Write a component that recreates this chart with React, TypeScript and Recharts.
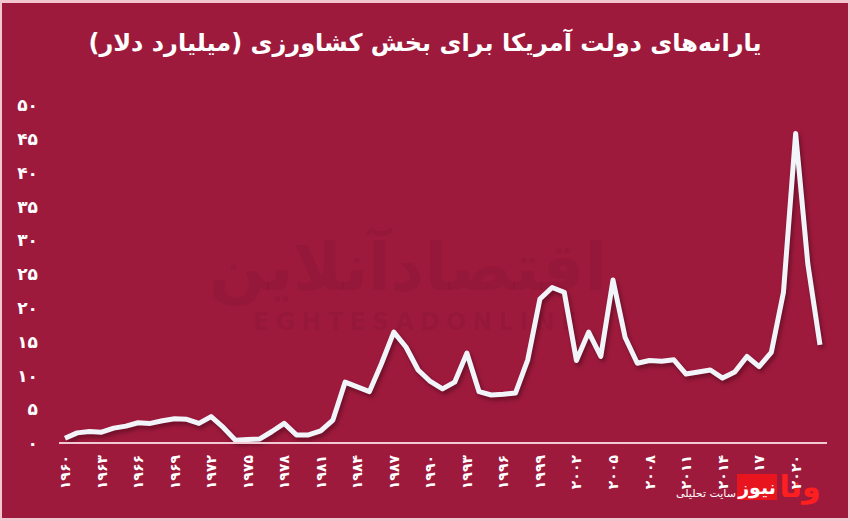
import React from 'react';
import { LineChart, Line, XAxis, YAxis } from 'recharts';

const years = [
  1960, 1961, 1962, 1963, 1964, 1965, 1966, 1967, 1968, 1969,
  1970, 1971, 1972, 1973, 1974, 1975, 1976, 1977, 1978, 1979,
  1980, 1981, 1982, 1983, 1984, 1985, 1986, 1987, 1988, 1989,
  1990, 1991, 1992, 1993, 1994, 1995, 1996, 1997, 1998, 1999,
  2000, 2001, 2002, 2003, 2004, 2005, 2006, 2007, 2008, 2009,
  2010, 2011, 2012, 2013, 2014, 2015, 2016, 2017, 2018, 2019,
  2020, 2021, 2022,
];

const subsidies = [
  0.7, 1.5, 1.7, 1.6, 2.2, 2.5, 3.0, 2.9, 3.3, 3.6,
  3.5, 2.9, 3.9, 2.3, 0.4, 0.5, 0.6, 1.7, 2.9, 1.2,
  1.2, 1.8, 3.4, 9.0, 8.3, 7.6, 11.8, 16.4, 14.2, 10.8,
  9.1, 8.0, 9.0, 13.3, 7.6, 7.1, 7.2, 7.4, 12.3, 21.3,
  23.0, 22.3, 12.2, 16.4, 12.8, 24.1, 15.6, 11.8, 12.2, 12.1,
  12.3, 10.2, 10.5, 10.8, 9.6, 10.5, 12.8, 11.3, 13.4, 22.3,
  45.8, 26.5, 14.5,
];

const yTicks = [0, 5, 10, 15, 20, 25, 30, 35, 40, 45, 50];

const title = 'یارانه‌های دولت آمریکا برای بخش کشاورزی (میلیارد دلار)';

const data = years.map((y, i) => ({ year: y, value: subsidies[i] }));

const faDigits = '۰۱۲۳۴۵۶۷۸۹';
const toFa = (v: number | string) => String(v).replace(/\d/g, (d) => faDigits[Number(d)]);

const BG = '#9E1A3D';
const FONT = '"DejaVu Sans", sans-serif';

const YTick = (props: any) => {
  const { y, payload } = props;
  return (
    <text x={38} y={y} dy="0.36em" textAnchor="end" fill="#ffffff" fontSize={17} fontWeight="bold" fontFamily={FONT}>
      {toFa(payload.value)}
    </text>
  );
};

const XTick = (props: any) => {
  const { x, payload } = props;
  const ty = 455;
  return (
    <text
      x={x}
      y={ty}
      dy="0.36em"
      transform={`rotate(-90, ${x}, ${ty})`}
      textAnchor="end"
      fill="#ffffff"
      fontSize={14}
      fontWeight="bold"
      fontFamily={FONT}
    >
      {toFa(payload.value)}
    </text>
  );
};

export default function App() {
  return (
    <div
      style={{
        position: 'fixed',
        left: 0,
        top: 0,
        width: 850,
        height: 521,
        background: '#F3C5CF',
        overflow: 'hidden',
      }}
    >
      <style>{`.recharts-line-curve{filter:drop-shadow(2px 3px 2px rgba(40,0,10,0.45));}`}</style>
      <div
        style={{
          position: 'absolute',
          left: 2,
          top: 3,
          width: 846,
          height: 515,
          background: BG,
        }}
      />
      <svg width={850} height={521} style={{ position: 'absolute', left: 0, top: 0 }}>
        <text x={408} y={290} textAnchor="middle" fontSize={66} fontWeight="bold" fontFamily={FONT} fill="rgba(70,0,20,0.09)">
          اقتصادآنلاین
        </text>
        <text x={418} y={330} textAnchor="middle" fontSize={24} fontWeight="bold" fontFamily={FONT} letterSpacing={6} fill="rgba(70,0,20,0.09)">
          EGHTESADONLINE
        </text>
      </svg>
      <div
        style={{
          position: 'absolute',
          left: 0,
          top: 29,
          width: 850,
          textAlign: 'center',
          direction: 'rtl',
          color: '#ffffff',
          fontFamily: FONT,
          fontWeight: 'bold',
          fontSize: 24,
        }}
      >
        {title}
      </div>
      <div style={{ position: 'absolute', left: 0, top: 0 }}>
        <LineChart width={850} height={521} data={data} margin={{ top: 105, right: 23, bottom: 0, left: 0 }}>
          <XAxis
            dataKey="year"
            interval={2}
            height={78}
            tick={<XTick />}
            tickLine={false}
            axisLine={{ stroke: '#F2C9D2', strokeWidth: 2 }}
            padding={{ left: 6, right: 7 }}
          />
          <YAxis
            domain={[0, 50]}
            ticks={yTicks}
            width={59}
            tick={<YTick />}
            tickLine={false}
            axisLine={false}
            interval={0}
          />
          <Line
            type="linear"
            dataKey="value"
            stroke="#F1F5FA"
            strokeWidth={5}
            dot={false}
            isAnimationActive={false}
            strokeLinejoin="round"
          />
        </LineChart>
      </div>
      <svg width={850} height={521} style={{ position: 'absolute', left: 0, top: 0, pointerEvents: 'none' }}>
        <rect x={737} y={474} width={40} height={26} fill="#E8141E" />
        <text x={757} y={494} textAnchor="middle" fontSize={19} fontWeight="bold" fontFamily={FONT} fill="#ffffff">
          نیوز
        </text>
        <text x={800} y={497} textAnchor="middle" fontSize={30} fontWeight="bold" fontFamily={FONT} fill="#FF1F1F">
          ونا
        </text>
        <text x={706} y={497} textAnchor="middle" fontSize={11} fontFamily={FONT} fill="#ffffff">
          سایت تحلیلی
        </text>
      </svg>
    </div>
  );
}
